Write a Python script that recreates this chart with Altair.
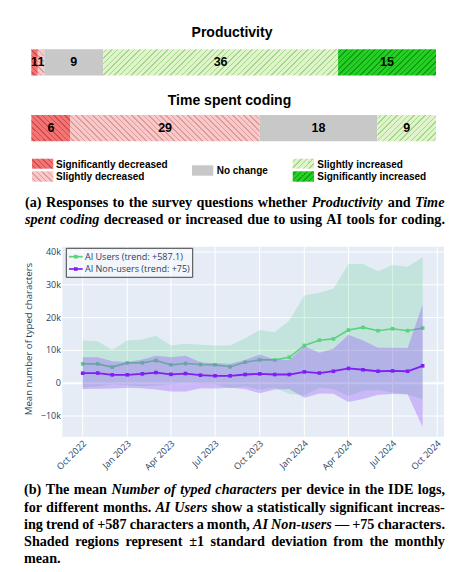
import altair as alt
import pandas as pd

# ---------------- data ----------------
questions = ["Productivity", "Time spent coding"]
categories = ["Significantly decreased", "Slightly decreased", "No change",
              "Slightly increased", "Significantly increased"]
productivity_counts = [1, 1, 9, 36, 15]
time_spent_counts = [6, 29, 18, 9, 0]
category_colors = ["#f47474", "#f9c8c8", "#c8c8c8", "#e0f4cc", "#24d024"]
hatch_colors = ["#cc4e4e", "#dc9c9c", "#c8c8c8", "#a6d68c", "#139c13"]
hatch_dirs = ["\\", "\\", None, "/", "/"]

months = ["2022-10-01", "2022-11-01", "2022-12-01", "2023-01-01", "2023-02-01", "2023-03-01",
          "2023-04-01", "2023-05-01", "2023-06-01", "2023-07-01", "2023-08-01", "2023-09-01",
          "2023-10-01", "2023-11-01", "2023-12-01", "2024-01-01", "2024-02-01", "2024-03-01",
          "2024-04-01", "2024-05-01", "2024-06-01", "2024-07-01", "2024-08-01", "2024-09-01"]
users_mean = [5900, 5900, 4900, 6200, 6200, 6900, 5600, 6000, 5700, 5600, 5000, 6400,
              7100, 7100, 7900, 11500, 13100, 13500, 16200, 17000, 16000, 16600, 16000, 16800]
users_std = [7100, 6900, 5200, 6800, 7100, 7600, 5900, 6000, 6000, 5900, 6500, 7300,
             9100, 8400, 11200, 15200, 14500, 15300, 20100, 19300, 18100, 19400, 19500, 21600]
nonusers_mean = [3050, 3100, 2550, 2550, 2850, 3250, 2700, 2950, 2450, 2250, 2250, 2650,
                 2850, 2650, 2650, 3450, 3100, 3650, 4500, 4100, 3650, 3750, 3650, 5300]
nonusers_std = [4850, 4800, 4150, 3950, 4350, 5150, 5200, 5450, 3950, 3850, 3650, 4450,
                5900, 4550, 4450, 7850, 6200, 6850, 10250, 8900, 7150, 7050, 7050, 18700]
series_names = ["AI Users (trend: +587.1)", "AI Non-users (trend: +75)"]
series_colors = ["#5ad27e", "#7f1ff5"]

y_ticks = [-10000, 0, 10000, 20000, 30000, 40000]
y_tick_labels = ["\u221210k", "0", "10k", "20k", "30k", "40k"]
x_ticks = ["2022-10-01", "2023-01-01", "2023-04-01", "2023-07-01", "2023-10-01",
           "2024-01-01", "2024-04-01", "2024-07-01", "2024-10-01"]
x_tick_labels = ["Oct 2022", "Jan 2023", "Apr 2023", "Jul 2023", "Oct 2023",
                 "Jan 2024", "Apr 2024", "Jul 2024", "Oct 2024"]
x_domain = ["2022-08-20", "2024-10-15"]
y_domain = [-16300, 41600]

caption_a = [
    (207, True, [("(a) Responses to the survey questions whether", False), ("Productivity", True),
                 ("and", False), ("Time", True)]),
    (224, True, [("spent coding", True),
                 ("decreased or increased due to using AI tools for coding.", False)]),
]
caption_b = [
    (494.3, True, [("(b) The mean", False), ("Number of typed characters", True),
                   ("per device in the IDE logs,", False)]),
    (511.7, True, [("for different months.", False), ("AI Users", True),
                   ("show a statistically significant increas-", False)]),
    (529, True, [("ing trend of +587 characters a month,", False), ("AI Non-users", True),
                 ("\u2014 +75 characters.", False)]),
    (546, True, [("Shaded regions represent \u00b11 standard deviation from the monthly", False)]),
    (563, False, [("mean.", False)]),
]

# ---------------- layout helpers ----------------
W, H = 443, 560


def P(v):
    """page pixel -> view pixel (the page has an 8px margin)"""
    return v - 8


ONE = pd.DataFrame({"k": [0]})


def text(x, y, s, size, font="Liberation Sans", weight="normal", style="normal",
         align="left", baseline="alphabetic", color="black", angle=0):
    return alt.Chart(ONE).mark_text(
        font=font, fontSize=size, fontWeight=weight, fontStyle=style,
        align=align, baseline=baseline, color=color, angle=angle
    ).encode(x=alt.value(P(x)), y=alt.value(P(y)), text=alt.value(s))


def box(x0, x1, y0, y1, fill, stroke=None, fill_opacity=1.0):
    kw = dict(fill=fill, fillOpacity=fill_opacity)
    if stroke:
        kw.update(stroke=stroke, strokeWidth=1)
    return alt.Chart(ONE).mark_rect(**kw).encode(
        x=alt.value(P(x0)), x2=alt.value(P(x1)), y=alt.value(P(y0)), y2=alt.value(P(y1)))


def hatch(base, line, w, h, direction, period=5.6, thick=1.5):
    """diagonal hatch as a sharp-stop linear gradient (bbox units)"""
    if direction is None:
        return base
    L = w + h
    k = L / (w * w + h * h)
    if direction == "/":
        x1, y1, x2, y2 = 0, 0, k * w, k * h
    else:
        x1, y1, x2, y2 = 0, 1, k * w, 1 - k * h
    GS = alt.GradientStop
    stops = [GS(color=base, offset=0)]
    s = period / 2
    while s < L:
        a = s / L
        b = min((s + thick) / L, 1)
        stops += [GS(color=base, offset=a), GS(color=line, offset=a),
                  GS(color=line, offset=b), GS(color=base, offset=b)]
        s += period
    stops.append(GS(color=base, offset=1))
    return alt.LinearGradient(gradient="linear", stops=stops, x1=x1, y1=y1, x2=x2, y2=y2)


# ---------------- (a) stacked survey bars ----------------
rows = []
for q, counts in zip(questions, [productivity_counts, time_spent_counts]):
    for i, (c, n) in enumerate(zip(categories, counts)):
        rows.append({"question": q, "category": c, "order": i, "count": n})
bar_df = pd.DataFrame(rows)
total = sum(productivity_counts)

bar_x0, bar_x1 = 31.3, 436
band_top, band_bot, pad_inner = 49.3, 141.3, 0.6
xb = alt.Scale(domain=[0, total], range=[P(bar_x0), P(bar_x1)], nice=False, zero=False)
yb = alt.Scale(domain=questions, range=[P(band_top), P(band_bot)], paddingInner=pad_inner, paddingOuter=0)
bandwidth = (band_bot - band_top) / (len(questions) - pad_inner) * (1 - pad_inner)
unit_px = (bar_x1 - bar_x0) / total

bar_base = alt.Chart(bar_df).transform_filter("datum.count > 0").transform_stack(
    as_=["x0", "x1"], stack="count", groupby=["question"],
    sort=[alt.SortField("order", order="ascending")]
).transform_calculate(xc="(datum.x0 + datum.x1) / 2")

bar_layers = []
for r in rows:
    if r["count"] <= 0:
        continue
    i = r["order"]
    fill = hatch(category_colors[i], hatch_colors[i], r["count"] * unit_px, bandwidth, hatch_dirs[i])
    bar_layers.append(
        bar_base.transform_filter(
            f"datum.question == '{r['question']}' && datum.order == {i}"
        ).mark_bar(fill=fill, strokeWidth=0).encode(
            x=alt.X("x0:Q", scale=xb, axis=None), x2="x1:Q",
            y=alt.Y("question:N", scale=yb, axis=None),
        )
    )
bar_labels = bar_base.mark_text(font="Liberation Sans", fontWeight="bold", fontSize=12.5,
                                color="black", baseline="middle").encode(
    x=alt.X("xc:Q", scale=xb, axis=None),
    y=alt.Y("question:N", scale=yb, axis=None),
    text="count:Q",
)
bar_group = alt.layer(*bar_layers, bar_labels)

# ---------------- (b) monthly typed characters ----------------
xs = alt.Scale(type="utc",
               domain=[alt.DateTime(year=2022, month=8, date=20, utc=True),
                       alt.DateTime(year=2024, month=10, date=15, utc=True)],
               range=[P(62.3), P(444)])
ys = alt.Scale(domain=y_domain, range=[P(436.7), P(246.7)], nice=False, zero=False)

bg_df = pd.DataFrame({"x0": [x_domain[0]], "x1": [x_domain[1]], "y0": [y_domain[0]], "y1": [y_domain[1]]})
plot_bg = alt.Chart(bg_df).mark_rect(fill="#e5ecf6").encode(
    x=alt.X("x0:T", scale=xs, axis=None), x2="x1:T",
    y=alt.Y("y0:Q", scale=ys, axis=None), y2="y1:Q")

vgrid_df = pd.DataFrame({"tick": x_ticks, "y0": y_domain[0], "y1": y_domain[1], "label": x_tick_labels})
vgrid = alt.Chart(vgrid_df).mark_rule(color="white", strokeWidth=1).encode(
    x=alt.X("tick:T", scale=xs, axis=None),
    y=alt.Y("y0:Q", scale=ys, axis=None), y2="y1:Q")

hgrid_df = pd.DataFrame({"val": y_ticks, "label": y_tick_labels, "x0": x_domain[0], "x1": x_domain[1]})
hgrid = alt.Chart(hgrid_df).mark_rule(color="white").encode(
    x=alt.X("x0:T", scale=xs, axis=None), x2="x1:T",
    y=alt.Y("val:Q", scale=ys, axis=None),
    strokeWidth=alt.condition("datum.val == 0", alt.value(2), alt.value(1)))


def series_layers(mean, std, color, fill, fill_opacity, width):
    df = pd.DataFrame({"date": months, "mean": mean, "std": std})
    base = alt.Chart(df).transform_calculate(lo="datum.mean - datum.std", hi="datum.mean + datum.std")
    band = base.mark_area(color=fill, opacity=fill_opacity).encode(
        x=alt.X("date:T", scale=xs, axis=None),
        y=alt.Y("lo:Q", scale=ys, axis=None), y2="hi:Q")
    line = base.mark_line(color=color, strokeWidth=width).encode(
        x=alt.X("date:T", scale=xs, axis=None),
        y=alt.Y("mean:Q", scale=ys, axis=None))
    pts = base.mark_point(shape="square", filled=True, size=13, color=color, opacity=1).encode(
        x=alt.X("date:T", scale=xs, axis=None),
        y=alt.Y("mean:Q", scale=ys, axis=None))
    return [band, line, pts]


users_layers = series_layers(users_mean, users_std, series_colors[0], "#3cc878", 0.2, 1.6)
nonusers_layers = series_layers(nonusers_mean, nonusers_std, series_colors[1], "#9040ff", 0.3, 1.8)

tick_col = "#2a3f5f"
ylabels = alt.Chart(hgrid_df).mark_text(font="Open Sans", fontSize=9, color=tick_col,
                                        align="right", baseline="middle").encode(
    x=alt.value(P(61)), y=alt.Y("val:Q", scale=ys, axis=None), text="label:N")
xlabels = alt.Chart(vgrid_df).mark_text(font="Open Sans", fontSize=9, color=tick_col,
                                        align="right", baseline="middle", angle=315, dx=3).encode(
    x=alt.X("tick:T", scale=xs, axis=None), y=alt.value(P(444)), text="label:N")

line_group = alt.layer(plot_bg, vgrid, hgrid, *users_layers, *nonusers_layers, ylabels, xlabels)

# ---------------- annotations ----------------
ann = []
ann.append(text(232, 36.5, "Productivity", 14, weight="bold", align="center"))
ann.append(text(229.5, 105, "Time spent coding", 14, weight="bold", align="center"))

sw = [(32, 53.3, 158.7, 168.7), (32, 53.3, 171.3, 181.7), (192, 213.3, 165.3, 175.7),
      (292.7, 314, 158.7, 168.7), (292.7, 314, 171.3, 181.7)]
tx = [(56, 167.7), (56, 180.4), (216.7, 174.2), (317.3, 167.7), (317.3, 180.4)]
for i, ((x0, x1, y0, y1), (tx0, ty0), c) in enumerate(zip(sw, tx, categories)):
    ann.append(box(x0, x1, y0, y1, hatch(category_colors[i], hatch_colors[i], x1 - x0, y1 - y0, hatch_dirs[i])))
    ann.append(text(tx0, ty0, c, 10, weight="bold"))

ann.append(box(66.3, 192.7, 248.3, 277.3, "white", stroke="#444444", fill_opacity=0.5))
for i, (name, col) in enumerate(zip(series_names, series_colors)):
    yy = 256.7 + i * 12.3
    ann.append(alt.Chart(ONE).mark_rule(color=col, strokeWidth=1.7).encode(
        x=alt.value(P(69)), x2=alt.value(P(82.7)), y=alt.value(P(yy))))
    ann.append(alt.Chart(ONE).mark_point(shape="square", filled=True, size=13, color=col, opacity=1).encode(
        x=alt.value(P(75.8)), y=alt.value(P(yy))))
    ann.append(text(85, yy, name, 9, font="Open Sans", color=tick_col, baseline="middle"))

ann.append(text(29.3, 339, "Mean number of typed characters", 9.6, font="Open Sans", color=tick_col,
                align="center", baseline="middle", angle=270))

# justified serif captions (word positions from Times-Bold style metrics)
TB = {" ": 250, "(": 333, ")": 333, "+": 570, ",": 250, "-": 333, ".": 250, ":": 333,
      "\u2014": 1000, "\u00b1": 570,
      "A": 722, "B": 667, "C": 722, "D": 722, "E": 667, "F": 611, "G": 778, "H": 778, "I": 389,
      "N": 722, "P": 611, "R": 722, "S": 556, "T": 667, "U": 722,
      "a": 500, "b": 556, "c": 444, "d": 556, "e": 444, "f": 333, "g": 500, "h": 556, "i": 278,
      "j": 333, "k": 556, "l": 278, "m": 833, "n": 556, "o": 500, "p": 556, "q": 556, "r": 444,
      "s": 389, "t": 333, "u": 556, "v": 500, "w": 722, "x": 500, "y": 500, "z": 444}
TBI = {" ": 250, "-": 333, "A": 667, "I": 389, "N": 722, "P": 667, "T": 611, "U": 722,
       "a": 500, "b": 500, "c": 444, "d": 500, "e": 444, "f": 333, "g": 500, "h": 556, "i": 278,
       "m": 778, "n": 556, "o": 500, "p": 500, "r": 389, "s": 389, "t": 278, "u": 556, "v": 444,
       "y": 444}
CS = 14.2


def wwidth(word, italic):
    tbl = TBI if italic else TB
    return sum(tbl.get(ch, 500) for ch in word) * CS / 1000.0


cap_rows = []
for left, lines in [(25, caption_a), (24, caption_b)]:
    right = 445
    for base_y, justify, segs in lines:
        words = [(w, it) for s, it in segs for w in s.split(" ")]
        widths = [wwidth(w, it) for w, it in words]
        gaps = len(words) - 1
        space = 0.25 * CS
        if justify and gaps > 0:
            space = (right - left - sum(widths)) / gaps
        x = left
        for (w, it), wd in zip(words, widths):
            cap_rows.append({"x": P(x), "y": P(base_y), "word": w, "italic": it})
            x += wd + space
cap_df = pd.DataFrame(cap_rows)
for it in (False, True):
    ann.append(alt.Chart(cap_df).transform_filter(f"datum.italic == {str(it).lower()}").mark_text(
        font="Liberation Serif", fontSize=CS, fontWeight="bold", fontStyle="italic" if it else "normal",
        align="left", baseline="alphabetic", color="black").encode(
        x=alt.X("x:Q", scale=None, axis=None), y=alt.Y("y:Q", scale=None, axis=None), text="word:N"))

chart = alt.layer(bar_group, line_group, *ann).resolve_scale(
    x="independent", y="independent", color="independent"
).properties(
    width=W, height=H, padding=0, autosize="none", background="white"
).configure_view(stroke=None)

chart.save("out.html", embed_options={"renderer": "svg", "actions": False})
